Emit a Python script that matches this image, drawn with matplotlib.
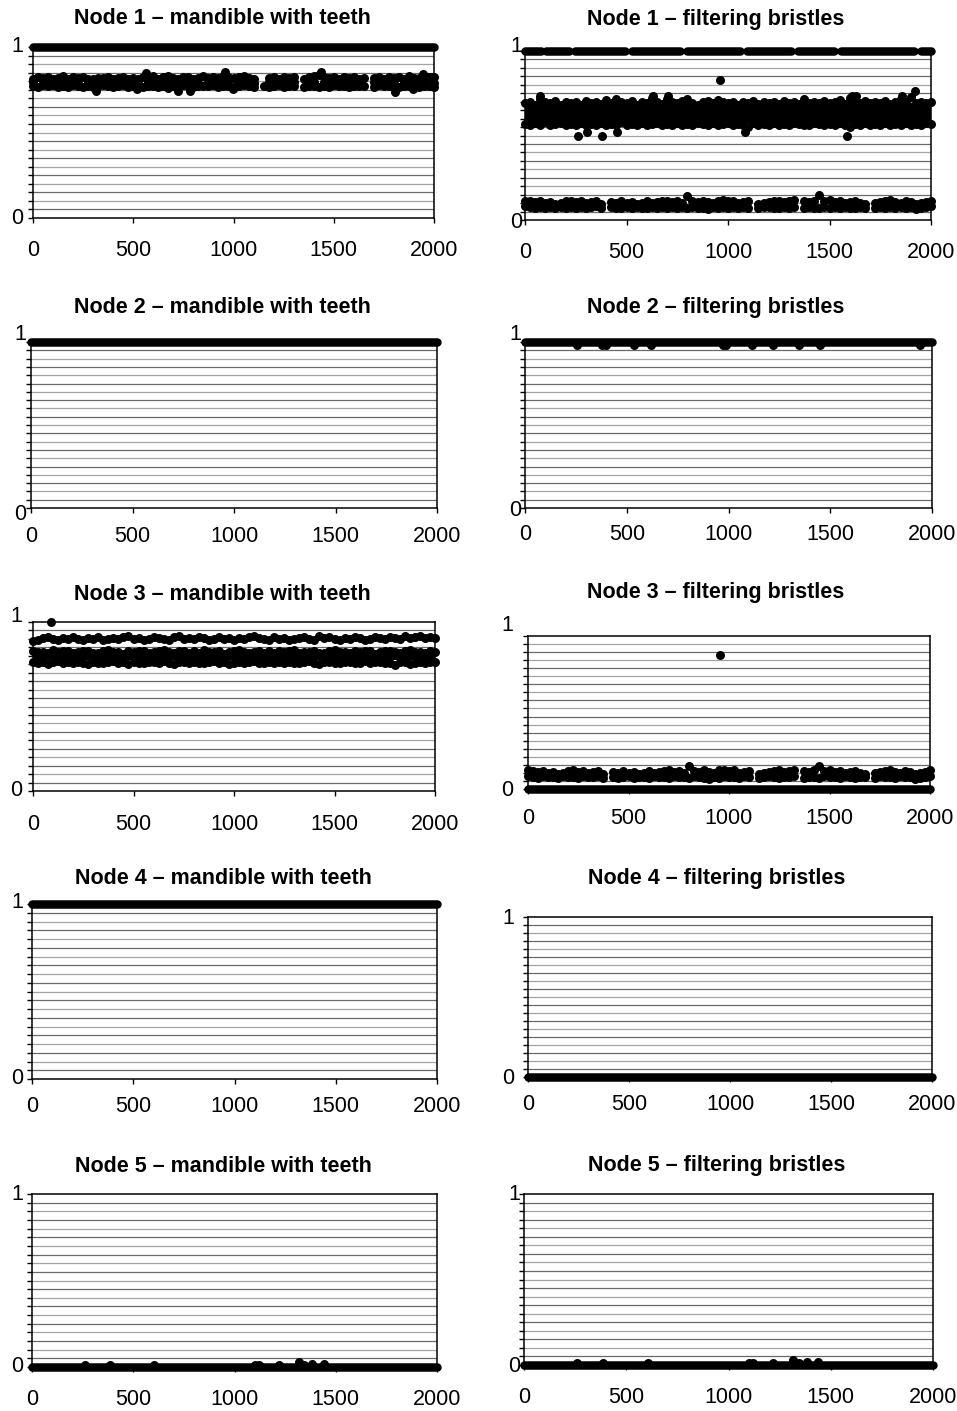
import numpy as np
import matplotlib
matplotlib.use("Agg")
import matplotlib.pyplot as plt

plt.rcParams["font.family"] = ["Liberation Sans", "DejaVu Sans"]

# ============================ DATA ============================
NODES = [1, 2, 3, 4, 5]
TRAITS = ["mandible with teeth", "filtering bristles"]
X_TICKS = [0, 500, 1000, 1500, 2000]
X_TICK_LABELS = ["0", "500", "1000", "1500", "2000"]
Y_TICKS = [0, 1]
Y_TICK_LABELS = ["0", "1"]
ITER_RANGE = [0, 2000]
SAMPLE_ITER = np.arange(0, 2001, 25)          # thinned MCMC iteration index (81 samples)

# ---- Node 1 - mandible with teeth ----
N1_MAND_SOLID = 1.0
N1_MAND_BAND_HI = [0.815, 0.822, 0.818, 0.825, 0.812, 0.820, 0.828, 0.815, 0.822, 0.818,
                   0.826, 0.815, 0.810, 0.820, 0.816, 0.823, 0.812, 0.818, 0.825, 0.815,
                   0.820, 0.812, 0.826, 0.818, 0.830, 0.815, 0.822, 0.828, 0.818, 0.815,
                   0.822, 0.826, 0.814, 0.820, 0.828, 0.816, 0.822, 0.818, 0.832, 0.824,
                   0.816, 0.822, 0.828, 0.818, 0.815, None, None, 0.820, 0.826, 0.815,
                   0.822, 0.818, 0.826, None, 0.815, 0.822, 0.828, 0.835, 0.824, 0.818,
                   0.822, 0.815, 0.826, 0.818, 0.822, 0.812, 0.820, None, 0.816, 0.822,
                   0.815, 0.826, 0.818, 0.822, 0.815, 0.828, 0.820, 0.818, 0.815, 0.822, 0.826]
N1_MAND_BAND_MID = [0.795, None, 0.792, 0.798, None, 0.790, 0.796, None, 0.794, 0.790,
                    None, 0.796, 0.792, None, 0.798, 0.790, None, 0.794, 0.796, None,
                    0.792, 0.790, None, 0.798, 0.794, None, 0.790, 0.796, None, 0.792,
                    0.798, None, 0.794, 0.790, None, 0.796, 0.792, None, 0.798, 0.794,
                    None, 0.790, 0.796, None, 0.792, None, None, 0.794, None, 0.798,
                    0.790, None, 0.796, None, None, 0.792, 0.798, None, 0.794, 0.790,
                    None, 0.796, 0.792, None, 0.798, 0.790, None, None, 0.794, 0.796,
                    None, 0.792, 0.790, None, 0.798, 0.794, None, 0.790, 0.796, None, 0.792]
N1_MAND_BAND_LO = [0.772, 0.768, 0.775, 0.770, 0.778, 0.765, 0.772, 0.768, 0.775, 0.770,
                   0.766, 0.774, 0.768, 0.770, 0.776, 0.772, 0.765, 0.770, 0.778, 0.768,
                   0.772, 0.775, 0.766, 0.770, 0.774, 0.768, 0.772, 0.762, 0.770, 0.765,
                   0.775, 0.770, 0.768, 0.774, 0.770, 0.772, 0.776, 0.768, 0.772, 0.770,
                   0.765, 0.772, 0.775, 0.770, 0.768, None, 0.772, 0.766, 0.770, 0.775,
                   0.768, 0.772, 0.770, None, 0.768, 0.774, 0.770, 0.765, 0.772, 0.768,
                   0.776, 0.770, 0.772, 0.768, 0.774, 0.770, 0.772, None, 0.768, 0.775,
                   0.770, 0.772, 0.765, 0.768, 0.774, 0.770, 0.772, 0.768, 0.774, 0.770, 0.765]
N1_MAND_OUT_X = [314, 517, 562, 725, 783, 958, 999, 1436, 1805, 1897, 1943, 1997]
N1_MAND_OUT_Y = [0.745, 0.752, 0.846, 0.745, 0.745, 0.856, 0.752, 0.856, 0.739, 0.752, 0.842, 0.826]

# ---- Node 1 - filtering bristles ----
N1_BRIS_TOP_LEVEL = 1.0
N1_BRIS_TOP_START = [0, 105, 245, 525, 800, 1095, 1345, 1555, 1950]
N1_BRIS_TOP_END = [80, 215, 495, 765, 1060, 1310, 1520, 1915, 2000]
N1_BRIS_MID_CORE = [0.575, 0.69]
N1_BRIS_MID_HI = [0.69, 0.70, 0.68, 0.715, 0.70, 0.69, 0.705, 0.68, 0.70, 0.69,
                  0.70, 0.68, 0.705, 0.69, 0.70, 0.685, 0.71, 0.69, 0.715, 0.70,
                  0.69, 0.705, 0.68, 0.70, 0.69, 0.72, 0.70, 0.685, 0.715, 0.70,
                  0.69, 0.705, 0.715, 0.695, 0.68, 0.70, 0.705, 0.69, 0.71, 0.70,
                  0.695, 0.70, 0.68, 0.70, 0.69, 0.705, 0.685, 0.70, 0.69, 0.70,
                  0.685, 0.705, 0.69, 0.70, 0.685, 0.715, 0.69, 0.70, 0.695, 0.705,
                  0.69, 0.70, 0.71, 0.685, 0.72, 0.70, 0.69, 0.705, 0.695, 0.70,
                  0.69, 0.705, 0.685, 0.70, 0.715, 0.70, 0.725, 0.69, 0.70, 0.695, 0.70]
N1_BRIS_MID_LO = [0.57, 0.56, 0.575, 0.565, 0.58, 0.56, 0.57, 0.575, 0.565, 0.57,
                  0.56, 0.575, 0.565, 0.57, 0.56, 0.575, 0.565, 0.57, 0.56, 0.58,
                  0.565, 0.57, 0.56, 0.575, 0.565, 0.57, 0.575, 0.56, 0.57, 0.565,
                  0.575, 0.56, 0.57, 0.565, 0.575, 0.57, 0.56, 0.575, 0.565, 0.57,
                  0.575, 0.565, 0.57, 0.56, 0.55, 0.575, 0.565, 0.57, 0.56, 0.575,
                  0.565, 0.57, 0.56, 0.575, 0.57, 0.565, 0.56, 0.575, 0.57, 0.565,
                  0.57, 0.56, 0.575, 0.565, 0.55, 0.57, 0.56, 0.575, 0.565, 0.57,
                  0.56, 0.575, 0.565, 0.57, 0.56, 0.575, 0.565, 0.57, 0.56, 0.575, 0.57]
N1_BRIS_MID_OUT_X = [74, 261, 304, 378, 455, 632, 706, 961, 1084, 1585, 1609, 1633, 1855, 1921]
N1_BRIS_MID_OUT_Y = [0.735, 0.50, 0.52, 0.50, 0.52, 0.735, 0.735, 0.83, 0.52, 0.50, 0.735, 0.735, 0.735, 0.765]
N1_BRIS_LOW_HI = [0.115, 0.11, 0.105, 0.11, 0.10, 0.105, 0.095, 0.10, 0.11, 0.115,
                  0.105, 0.11, 0.10, 0.105, 0.11, 0.095, None, 0.105, 0.10, 0.11,
                  0.10, 0.105, 0.095, 0.10, 0.11, 0.10, 0.105, 0.11, 0.115, 0.105,
                  0.11, 0.10, 0.14, 0.11, 0.105, 0.115, 0.105, 0.10, 0.115, 0.12,
                  0.11, 0.115, 0.10, 0.105, 0.11, None, 0.095, 0.10, 0.105, 0.11,
                  0.115, 0.105, 0.11, 0.12, None, 0.11, 0.105, 0.115, 0.145, 0.11,
                  0.12, 0.105, 0.11, 0.10, 0.105, 0.11, 0.10, 0.095, None, 0.10,
                  0.105, 0.11, 0.12, 0.105, 0.10, 0.11, 0.105, 0.095, 0.10, 0.105, 0.115]
N1_BRIS_LOW_LO = [0.08, 0.075, 0.07, 0.078, 0.072, 0.075, 0.07, 0.078, 0.072, 0.075,
                  0.07, 0.078, 0.072, 0.075, 0.08, 0.07, None, 0.075, 0.07, 0.072,
                  0.078, 0.07, 0.075, 0.072, 0.07, 0.078, 0.072, 0.075, 0.07, 0.078,
                  0.072, 0.075, 0.07, 0.078, 0.072, 0.07, 0.065, 0.075, 0.07, 0.078,
                  0.072, 0.075, 0.07, 0.078, 0.072, None, 0.07, 0.075, 0.078, 0.072,
                  0.07, 0.075, 0.072, 0.078, None, 0.07, 0.075, 0.072, 0.07, 0.078,
                  0.072, 0.075, 0.07, 0.078, 0.072, 0.07, 0.075, 0.072, None, 0.07,
                  0.078, 0.072, 0.075, 0.07, 0.078, 0.072, 0.075, 0.065, 0.07, 0.075, 0.08]

# ---- Node 2 ----
N2_MAND_SOLID = 1.0
N2_BRIS_SOLID = 1.0
N2_BRIS_DIP_X = [254, 377, 398, 536, 618, 975, 989, 1115, 1221, 1344, 1451, 1939]
N2_BRIS_DIP_Y = [0.982, 0.982, 0.982, 0.982, 0.982, 0.982, 0.982, 0.982, 0.982, 0.982, 0.982, 0.982]

# ---- Node 3 - mandible with teeth ----
N3_MAND_UP = [0.89, 0.895, 0.905, 0.91, 0.90, 0.895, 0.905, 0.90, 0.91, 0.90,
              0.895, 0.905, 0.90, 0.91, 0.895, 0.90, 0.905, 0.90, 0.91, 0.915,
              0.90, 0.905, 0.895, 0.90, 0.91, 0.905, 0.90, 0.895, 0.91, 0.915,
              0.90, 0.905, 0.90, 0.91, 0.905, 0.895, 0.90, 0.91, 0.90, 0.905,
              0.895, 0.905, 0.90, 0.91, 0.92, 0.905, 0.90, 0.895, 0.91, 0.90,
              0.905, 0.895, 0.90, 0.905, 0.91, 0.90, 0.895, 0.915, 0.905, 0.91,
              0.90, 0.895, 0.905, 0.90, 0.91, 0.905, 0.895, 0.90, 0.91, 0.905,
              0.90, 0.91, 0.905, 0.90, 0.915, 0.905, 0.91, 0.92, 0.905, 0.91, 0.905]
N3_MAND_CORE = [0.775, 0.815]
N3_MAND_HI = [0.83, 0.82, 0.825, 0.815, 0.832, 0.82, 0.826, 0.83, 0.815, 0.822,
              0.828, 0.83, 0.818, 0.815, 0.826, 0.834, 0.82, 0.825, 0.812, 0.83,
              0.822, 0.826, 0.83, 0.815, 0.82, 0.828, 0.832, 0.82, 0.814, 0.826,
              0.83, 0.818, 0.826, 0.815, 0.832, 0.82, 0.825, 0.83, 0.812, 0.82,
              0.826, 0.834, 0.82, 0.815, 0.825, 0.83, 0.818, 0.826, 0.815, 0.83,
              0.82, 0.826, 0.832, 0.815, 0.822, 0.825, 0.83, 0.818, 0.814, 0.826,
              0.832, 0.82, 0.825, 0.815, 0.83, 0.822, 0.826, 0.83, 0.812, 0.82,
              0.828, 0.83, 0.82, 0.815, 0.826, 0.834, 0.82, 0.825, 0.815, 0.83, 0.822]
N3_MAND_LO = [0.762, 0.758, 0.765, 0.752, 0.762, 0.768, 0.755, 0.762, 0.758, 0.765,
              0.76, 0.752, 0.765, 0.76, 0.756, 0.762, 0.768, 0.755, 0.762, 0.752,
              0.765, 0.76, 0.758, 0.765, 0.762, 0.755, 0.768, 0.76, 0.752, 0.765,
              0.762, 0.758, 0.765, 0.76, 0.755, 0.762, 0.768, 0.758, 0.762, 0.752,
              0.76, 0.765, 0.756, 0.762, 0.768, 0.755, 0.76, 0.765, 0.758, 0.762,
              0.755, 0.765, 0.76, 0.758, 0.762, 0.768, 0.755, 0.752, 0.762, 0.765,
              0.76, 0.758, 0.765, 0.762, 0.755, 0.76, 0.768, 0.758, 0.762, 0.765,
              0.76, 0.755, 0.748, 0.762, 0.765, 0.752, 0.76, 0.765, 0.758, 0.762, 0.765]
N3_MAND_OUT_X = [91]
N3_MAND_OUT_Y = [1.0]

# ---- Node 3 - filtering bristles ----
N3_BRIS_SOLID = 0.0
N3_BRIS_BAND_HI = N1_BRIS_LOW_HI
N3_BRIS_BAND_LO = N1_BRIS_LOW_LO
N3_BRIS_OUT_X = [955]
N3_BRIS_OUT_Y = [0.83]

# ---- Node 4 ----
N4_MAND_SOLID = 1.0
N4_BRIS_SOLID = 0.0

# ---- Node 5 ----
N5_MAND_SOLID = 0.0
N5_BRIS_SOLID = 0.0
N5_BUMP_X = [260, 387, 604, 1100, 1120, 1220, 1317, 1345, 1383, 1440]
N5_BUMP_Y = [0.012, 0.012, 0.012, 0.012, 0.010, 0.012, 0.028, 0.012, 0.016, 0.020]

# ============================ LAYERS ============================
def arr(v):
    return np.array([np.nan if a is None else a for a in v], dtype=float)

PANEL_LAYERS = [
    [  # Node 1
        [("solid", N1_MAND_SOLID),
         ("dots", SAMPLE_ITER, arr(N1_MAND_BAND_HI)),
         ("dots", SAMPLE_ITER, arr(N1_MAND_BAND_MID)),
         ("dots", SAMPLE_ITER, arr(N1_MAND_BAND_LO)),
         ("dots", N1_MAND_OUT_X, N1_MAND_OUT_Y)],
        [("segments", N1_BRIS_TOP_START, N1_BRIS_TOP_END, N1_BRIS_TOP_LEVEL),
         ("core", N1_BRIS_MID_CORE),
         ("dots", SAMPLE_ITER, arr(N1_BRIS_MID_HI)),
         ("dots", SAMPLE_ITER, arr(N1_BRIS_MID_LO)),
         ("dots", N1_BRIS_MID_OUT_X, N1_BRIS_MID_OUT_Y),
         ("dots", SAMPLE_ITER, arr(N1_BRIS_LOW_HI)),
         ("dots", SAMPLE_ITER, arr(N1_BRIS_LOW_LO))],
    ],
    [  # Node 2
        [("solid", N2_MAND_SOLID)],
        [("solid", N2_BRIS_SOLID),
         ("dots", N2_BRIS_DIP_X, N2_BRIS_DIP_Y)],
    ],
    [  # Node 3
        [("dots", SAMPLE_ITER, arr(N3_MAND_UP)),
         ("core", N3_MAND_CORE),
         ("dots", SAMPLE_ITER, arr(N3_MAND_HI)),
         ("dots", SAMPLE_ITER, arr(N3_MAND_LO)),
         ("dots", N3_MAND_OUT_X, N3_MAND_OUT_Y)],
        [("solid", N3_BRIS_SOLID),
         ("dots", SAMPLE_ITER, arr(N3_BRIS_BAND_HI)),
         ("dots", SAMPLE_ITER, arr(N3_BRIS_BAND_LO)),
         ("dots", N3_BRIS_OUT_X, N3_BRIS_OUT_Y)],
    ],
    [  # Node 4
        [("solid", N4_MAND_SOLID)],
        [("solid", N4_BRIS_SOLID)],
    ],
    [  # Node 5
        [("solid", N5_MAND_SOLID), ("dots", N5_BUMP_X, N5_BUMP_Y)],
        [("solid", N5_BRIS_SOLID), ("dots", N5_BUMP_X, N5_BUMP_Y)],
    ],
]

# ============================ LAYOUT (pixels) ============================
W, H, DPI = 957, 1411, 100
PT = 72.0 / DPI                      # points per pixel
BOXES = [  # (left, right, top, bottom) in pixels
    [(33, 434, 47, 218), (525, 931, 51, 220)],
    [(31, 437, 342, 508), (525, 932, 342, 508)],
    [(33, 435, 622, 791), (528, 930, 636, 789)],
    [(32, 437, 904, 1079), (528, 932, 917, 1077)],
    [(32, 437, 1194, 1367), (524, 933, 1194, 1365)],
]
# visible top of the value axis in each panel (Node 3 bristles plot area stops at 0.95)
Y_TOP = [[1.0, 1.0], [1.0, 1.0], [1.0, 0.95], [1.0, 1.0], [1.0, 1.0]]
TITLE_POS = [[(222, 24), (716, 25)], [(222, 313), (716, 313)], [(222, 600), (716, 598)],
             [(223, 884), (717, 884)], [(223, 1172), (717, 1171)]]
XLAB_GAP = [[22, 21.7], [18.4, 15.6], [22.6, 19], [17.4, 16.6], [21.6, 21.7]]
YLAB_GAP = [[10, 2.3], [4.7, 4], [10.6, 14.7], [9, 14], [9, 3.3]]
YLAB_DY1 = [[1, 5], [7, 7], [5.6, 2], [2, -1], [0, 0]]
YLAB_DY0 = [[0, -3], [-6, -3], [0, -1.5], [0, -1], [0, -1]]

DOT_PX = 9.0
LINE_PX = 8.5
TICK_PX = 5
FS_TICK = 15.5
FS_TITLE = 15.5

fig = plt.figure(figsize=(W / DPI, H / DPI), dpi=DPI)
fig.patch.set_facecolor("white")

for r, node in enumerate(NODES):
    for c, trait in enumerate(TRAITS):
        L, R, T, B = BOXES[r][c]
        ytop = Y_TOP[r][c]
        ax = fig.add_axes([L / W, 1 - B / H, (R - L) / W, (B - T) / H])
        ax.set_xlim(ITER_RANGE)
        ax.set_ylim(0, ytop)
        ax.set_facecolor("white")
        grid_levels = np.round(np.arange(0.05, ytop - 0.049, 0.05), 2)
        for i, lv in enumerate(grid_levels):
            ax.axhline(lv, color="#6a6a6a" if i % 2 == 0 else "#a4a4a4", lw=0.9, zorder=1)
        for s in ax.spines.values():
            s.set_color("black")
            s.set_linewidth(1.1)
            s.set_zorder(2)

        ax.set_xticks(X_TICKS)
        ax.set_xticklabels(X_TICK_LABELS, fontsize=FS_TICK)
        ax.tick_params(axis="x", direction="out", length=TICK_PX * PT, width=1.0,
                       pad=(XLAB_GAP[r][c] - TICK_PX) * PT, colors="black")
        ax.set_yticks([0.0] + list(grid_levels) + [ytop])
        ax.set_yticklabels([])
        ax.tick_params(axis="y", direction="out", length=TICK_PX * PT, width=1.0, colors="black")
        for val, lab, dy in zip(Y_TICKS, Y_TICK_LABELS, [YLAB_DY0[r][c], YLAB_DY1[r][c]]):
            ax.annotate(lab, xy=(0, val), xycoords=("axes fraction", "data"),
                        xytext=(-YLAB_GAP[r][c], dy), textcoords="offset pixels",
                        ha="right", va="center", fontsize=FS_TICK, annotation_clip=False)

        for layer in PANEL_LAYERS[r][c]:
            kind = layer[0]
            if kind == "solid":
                ax.plot(ITER_RANGE, [layer[1], layer[1]], color="black", lw=LINE_PX * PT,
                        solid_capstyle="round", clip_on=False, zorder=4)
            elif kind == "segments":
                for s0, s1 in zip(layer[1], layer[2]):
                    ax.plot([s0, s1], [layer[3], layer[3]], color="black", lw=LINE_PX * PT,
                            solid_capstyle="round", clip_on=False, zorder=4)
            elif kind == "core":
                ax.fill_between(ITER_RANGE, layer[1][0], layer[1][1], color="black",
                                lw=0, zorder=4)
            elif kind == "dots":
                ax.scatter(layer[1], layer[2], s=(DOT_PX * PT) ** 2, c="black",
                           linewidths=0, clip_on=False, zorder=4)

        cx, by = TITLE_POS[r][c]
        fig.text(cx / W, 1 - by / H, f"Node {node} \u2013 {trait}", ha="center",
                 va="baseline", fontsize=FS_TITLE, fontweight="bold")

fig.savefig("out.png", dpi=DPI)
